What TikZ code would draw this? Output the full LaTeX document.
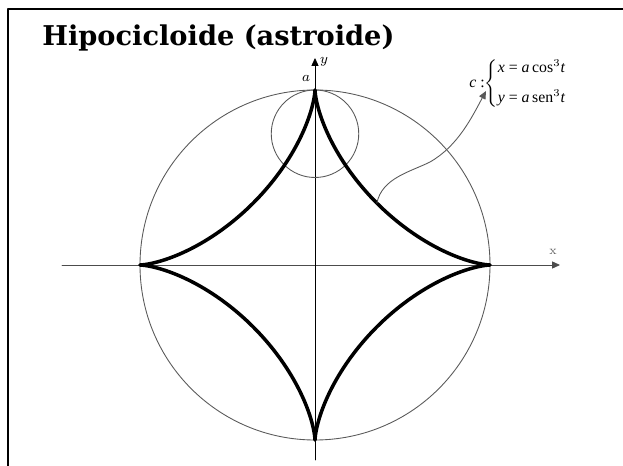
\documentclass[tikz,border=0pt]{standalone}
\usepackage{amsmath}
\usepackage{fontspec}
\usetikzlibrary{arrows.meta,positioning}
\newfontfamily\titlefont{DejaVu Serif}
\newfontfamily\formfont{Liberation Serif}
\tikzset{
  astroline/.style={line width=2pt,black},
  circline/.style={line width=0.5pt,black!65},
  axisline/.style={line width=0.5pt,-{Triangle[length=4.5pt,width=4pt]}},
  frameline/.style={line width=1.3pt},
  smalllabel/.style={inner sep=1pt,font=\fontsize{8}{9}\selectfont},
  every picture/.style={line cap=round,line join=round}
}
\begin{document}
\begin{tikzpicture}[x=0.02cm,y=-0.02cm]
  \useasboundingbox (0,0) rectangle (623,466);
  \draw[frameline] (8,466) -- (8,9) -- (623,9);
  \node[anchor=base west,inner sep=0pt,
    font=\titlefont\bfseries\fontsize{15.5}{18}\selectfont] (title) at (42,46) {Hipocicloide (astroide)};
  \coordinate (O) at (315,265);
  \coordinate (xstart) at (62,265);
  \coordinate (xend) at (560,265);
  \coordinate (ystart) at (315,460);
  \coordinate (yend) at (315,58);
  \draw[axisline,black!70] (xstart) -- (xend);
  \draw[axisline] (ystart) -- (yend);
  \draw[circline] (O) circle[radius=175];
  \draw[circline] (315,133.75) circle[radius=43.75];
  \draw[astroline] plot[domain=0:360,samples=361]
    ({315+175*cos(\x)*cos(\x)*cos(\x)},{265-175*sin(\x)*sin(\x)*sin(\x)});
  \node[smalllabel] (alabel) at (306,78) {$a$};
  \node[smalllabel,anchor=west] (ylabel) at (318,62) {$y$};
  \node[smalllabel,black!60,font=\fontsize{7}{8}\selectfont] (xlabel) at (553,252) {x};
  \node[anchor=west,inner sep=0pt,font=\formfont\fontsize{9}{11}\selectfont] (param) at (469,84)
    {\textit{c} :$\left\{\mbox{\begin{tabular}{@{}l@{}}\textit{x} = \textit{a}\,cos$^3$\textit{t}\\[6pt]
      \textit{y} = \textit{a}\,sen$^3$\textit{t}\end{tabular}}\right.$};
  \coordinate (astpt) at ({315+175*cos(45)^3},{265-175*sin(45)^3});
  \coordinate (tip) at (486,91);
  \draw[circline,-{Triangle[length=4.5pt,width=4pt]}] (astpt)
    .. controls (382,178) and (410,172) .. (430,162)
    .. controls (458,146) and (472,117) .. (tip);
\end{tikzpicture}
\end{document}
